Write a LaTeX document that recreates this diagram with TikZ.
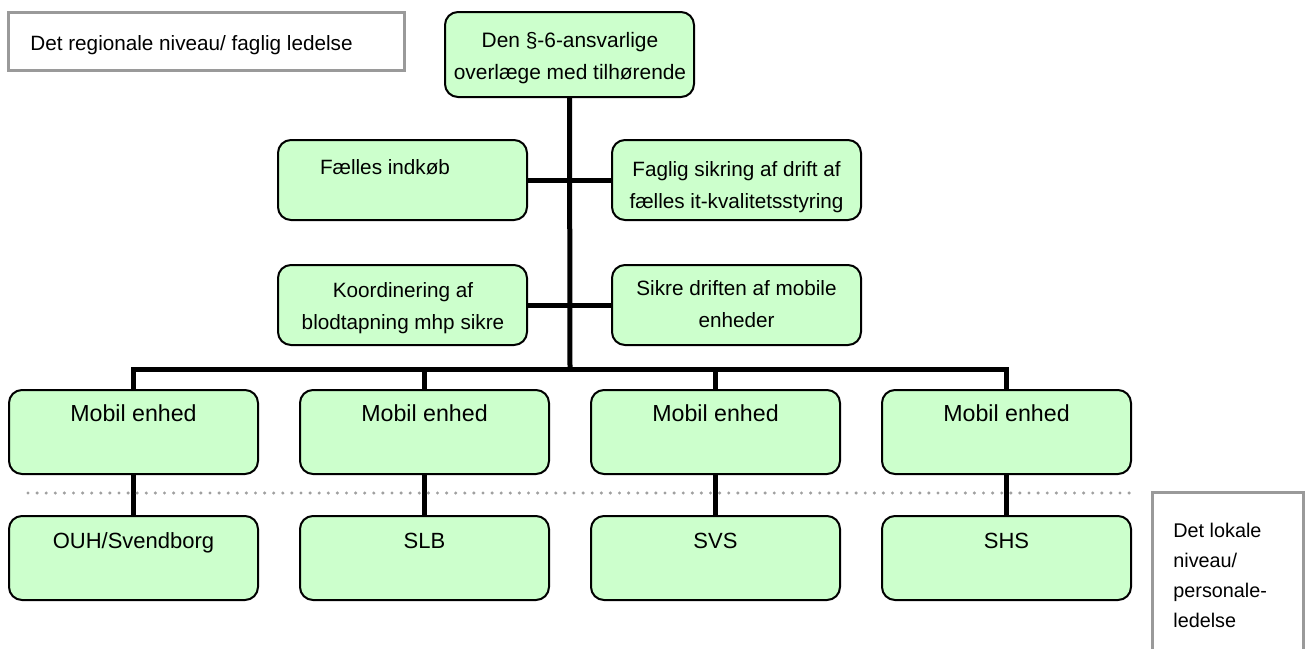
\documentclass[tikz,border=0pt]{standalone}
\usepackage{fontspec}
\setmainfont{Liberation Sans}
\definecolor{boxgreen}{HTML}{CCFFCC}
\definecolor{framegray}{HTML}{9A9A9A}
\definecolor{dotgray}{HTML}{A0A0A0}
\begin{document}
\begin{tikzpicture}[x=0.5pt,y=-0.5pt,
  gbox/.style={draw=black, line width=1pt, fill=boxgreen, rounded corners=6.5pt,
    inner sep=0pt, outer sep=0pt, anchor=north west, minimum width=124.5pt, minimum height=40pt},
  note/.style={draw=framegray, line width=1.5pt, fill=white, inner sep=0pt, outer sep=0pt, anchor=north west},
  small/.style={font=\fontsize{10.35}{16}\selectfont, inner sep=0pt, align=center},
  topfont/.style={font=\fontsize{10.45}{16}\selectfont, inner sep=0pt, align=center},
  big/.style={font=\fontsize{11.6}{16}\selectfont, inner sep=0pt, anchor=base},
  lowfont/.style={font=\fontsize{11}{16}\selectfont, inner sep=0pt, anchor=base},
  conn/.style={line width=2.5pt, draw=black},
  sep/.style={draw=dotgray, line width=1.7pt, line cap=round, dash pattern=on 0pt off 4.55pt}]
\useasboundingbox (0,0) rectangle (1306,648);
\clip (0,0) rectangle (1306,648);

% regional note
\node[note, minimum width=198pt, minimum height=29pt] (reg) at (8,12) {};
\node[small, anchor=base west] (regt) at (30,50.5) {Det regionale niveau/ faglig ledelse};

% top box
\node[gbox, minimum height=42.5pt] (top) at (445,12) {};
\node[topfont, anchor=north] (topt) at (570,32.2) {Den §-6-ansvarlige\\overlæge med tilhørende};

% middle boxes
\node[gbox] (fi) at (278,140) {};
\node[small, anchor=base] (fit) at (385,174.5) {Fælles indkøb};
\node[gbox] (fs) at (612,140) {};
\node[small, anchor=north] (fst) at (736.5,161.3) {Faglig sikring af drift af\\fælles it-kvalitetsstyring};
\node[gbox] (ko) at (278,265) {};
\node[small, anchor=north] (kot) at (403,282.3) {Koordinering af\\blodtapning mhp sikre};
\node[gbox] (sd) at (612,265) {};
\node[small, anchor=north] (sdt) at (736.5,280.3) {Sikre driften af mobile\\enheder};

% mobile units
\node[gbox, minimum height=42pt] (m1) at (9,390) {};
\node[gbox, minimum height=42pt] (m2) at (300,390) {};
\node[gbox, minimum height=42pt] (m3) at (591,390) {};
\node[gbox, minimum height=42pt] (m4) at (882,390) {};
\foreach \n in {1,2,3,4}{
  \node[big] (m\n t) at ([yshift=-15.7pt]m\n.north) {Mobil enhed};
}

% local units
\node[gbox, minimum height=42pt] (l1) at (9,516) {};
\node[gbox, minimum height=42pt] (l2) at (300,516) {};
\node[gbox, minimum height=42pt] (l3) at (591,516) {};
\node[gbox, minimum height=42pt] (l4) at (882,516) {};
\node[lowfont] (l1t) at ([yshift=-16pt]l1.north) {OUH/Svendborg};
\node[lowfont] (l2t) at ([yshift=-16pt]l2.north) {SLB};
\node[lowfont] (l3t) at ([yshift=-16pt]l3.north) {SVS};
\node[lowfont] (l4t) at ([yshift=-16pt]l4.north) {SHS};

% local note
\node[note, minimum width=75.5pt, minimum height=90pt] (loc) at (1152,492) {};
\node[font=\fontsize{9.9}{15}\selectfont, inner sep=0pt, align=left, anchor=north west] (loct)
  at (1173,522.5) {Det lokale\\niveau/\\personale-\\ledelse};

% connectors
\coordinate (bus) at (570,369);
\draw[conn] (top.south) -- (bus);
\draw[conn] (fi.east) -- (fs.west);
\draw[conn] (ko.east) -- (sd.west);
\draw[conn] (m1.north) -- (m1.north |- bus) -- (m4.north |- bus) -- (m4.north);
\draw[conn] (m2.north) -- (m2.north |- bus);
\draw[conn] (m3.north) -- (m3.north |- bus);
\foreach \n in {1,2,3,4}{
  \draw[conn] (m\n.south) -- (l\n.north);
}

% level separator
\coordinate (sepl) at (28,493);
\coordinate (sepr) at (1131,493);
\draw[sep] (sepl) -- (sepr);
\end{tikzpicture}
\end{document}
